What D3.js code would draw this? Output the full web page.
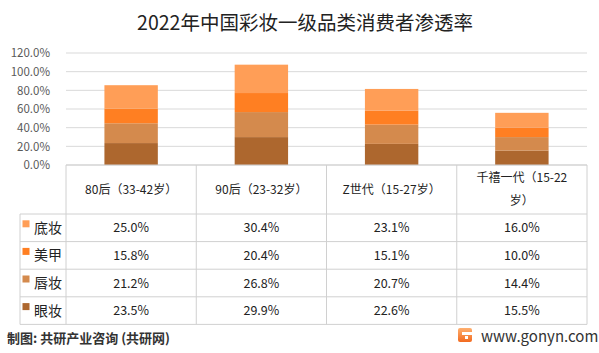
<!DOCTYPE html>
<html>
<head>
<meta charset="utf-8">
<script src="https://cdn.jsdelivr.net/npm/d3@7"></script>
<style>
  body { margin: 0; background: #fff; }
  text { font-family: "Noto Sans CJK SC", "Noto Sans", sans-serif; }
</style>
</head>
<body>
<div id="chart"></div>
<script>
// data
var categories = ['80后（33-42岁）', '90后（23-32岁）', 'Z世代（15-27岁）', '千禧一代（15-22岁）'];
var seriesNames = ['底妆', '美甲', '唇妆', '眼妆'];
var foundation = [25.0, 30.4, 23.1, 16.0];
var nails = [15.8, 20.4, 15.1, 10.0];
var lips = [21.2, 26.8, 20.7, 14.4];
var eyes = [23.5, 29.9, 22.6, 15.5];
var yTicks = [0, 20, 40, 60, 80, 100, 120];

var seriesValues = [foundation, nails, lips, eyes];
var colors = ['#FF9E57', '#FF7F22', '#D48A4D', '#AD672E'];

var W = 599, H = 353;
var plotLeft = 66, plotRight = 587, plotTop = 53, plotBase = 165;
var rowTop = 214, rowH = 27.6;

var svg = d3.select('#chart').append('svg')
  .attr('width', W)
  .attr('height', H);

svg.append('text')
  .attr('x', 305).attr('y', 30)
  .attr('text-anchor', 'middle')
  .attr('font-size', 19.5)
  .attr('fill', '#222')
  .text('2022年中国彩妆一级品类消费者渗透率');

var x = d3.scaleBand().domain(categories).range([plotLeft, plotRight]);
var y = d3.scaleLinear().domain([0, 120]).range([plotBase, plotTop]);

// gridlines
svg.append('g').selectAll('line')
  .data(yTicks)
  .enter().append('line')
  .attr('x1', plotLeft).attr('x2', plotRight)
  .attr('y1', function(d) { return y(d); })
  .attr('y2', function(d) { return y(d); })
  .attr('stroke', '#d9d9d9');

var yAxis = svg.append('g')
  .attr('transform', 'translate(' + (plotLeft - 13) + ',0)')
  .call(d3.axisLeft(y).tickValues(yTicks).tickSize(0).tickFormat(function(d) { return d.toFixed(1) + '%'; }));
yAxis.select('.domain').remove();
yAxis.selectAll('text').attr('font-size', 11.5).attr('fill', '#595959').attr('font-family', '"Noto Sans CJK SC", sans-serif');

// stacked bars, bottom-up: 眼妆, 唇妆, 美甲, 底妆
var rows = categories.map(function(c, i) {
  var r = { cat: c };
  seriesNames.forEach(function(s, j) { r[s] = seriesValues[j][i]; });
  return r;
});
var stack = d3.stack().keys(seriesNames.slice().reverse());
var layers = stack(rows);
var barW = x.bandwidth() * 0.41;

svg.append('g').selectAll('g')
  .data(layers)
  .enter().append('g')
  .attr('fill', function(d) { return colors[seriesNames.indexOf(d.key)]; })
  .selectAll('rect')
  .data(function(d) { return d; })
  .enter().append('rect')
  .attr('x', function(d) { return x(d.data.cat) + (x.bandwidth() - barW) / 2; })
  .attr('width', barW)
  .attr('y', function(d) { return y(d[1]); })
  .attr('height', function(d) { return y(d[0]) - y(d[1]); });

// data table
var tbl = svg.append('g');
var lineColor = '#d0d0d0';
var tableBottom = rowTop + rowH * seriesNames.length;

// vertical lines
var vx = [plotLeft].concat(categories.map(function(c) { return x(c) + x.bandwidth(); }));
tbl.selectAll('.v')
  .data(vx)
  .enter().append('line')
  .attr('x1', function(d) { return d; }).attr('x2', function(d) { return d; })
  .attr('y1', plotBase).attr('y2', tableBottom)
  .attr('stroke', lineColor);
tbl.append('line')
  .attr('x1', 20).attr('x2', 20).attr('y1', rowTop).attr('y2', tableBottom)
  .attr('stroke', lineColor);
// horizontal lines
tbl.append('line')
  .attr('x1', plotLeft).attr('x2', plotRight).attr('y1', plotBase).attr('y2', plotBase)
  .attr('stroke', lineColor);
tbl.selectAll('.h')
  .data(d3.range(seriesNames.length + 1))
  .enter().append('line')
  .attr('x1', 20).attr('x2', plotRight)
  .attr('y1', function(i) { return rowTop + i * rowH; })
  .attr('y2', function(i) { return rowTop + i * rowH; })
  .attr('stroke', lineColor);

// header labels, wrapped to fit cell
categories.forEach(function(c) {
  var t = tbl.append('text')
    .attr('text-anchor', 'middle')
    .attr('font-size', 12)
    .attr('fill', '#222');
  var probe = t.append('tspan').text(c);
  var lines = [c];
  if (probe.node().getComputedTextLength() > 110) {
    var chars = Array.from(c), cur = '';
    lines = [];
    chars.forEach(function(ch) {
      probe.text(cur + ch);
      if (probe.node().getComputedTextLength() > 100 && cur) { lines.push(cur); cur = ch; }
      else cur += ch;
    });
    lines.push(cur);
  }
  probe.remove();
  var cx = x(c) + x.bandwidth() / 2;
  var y0 = (plotBase + rowTop) / 2 + 4 - (lines.length - 1) * 11.5;
  lines.forEach(function(l, k) {
    t.append('tspan').attr('x', cx).attr('y', y0 + k * 23).text(l);
  });
});

// row labels with legend keys
seriesNames.forEach(function(s, j) {
  var cy = rowTop + j * rowH + rowH / 2;
  tbl.append('rect')
    .attr('x', 22.5).attr('y', cy - 7.5)
    .attr('width', 7).attr('height', 7)
    .attr('fill', colors[j]);
  tbl.append('text')
    .attr('x', 34).attr('y', cy + 5)
    .attr('font-size', 14)
    .attr('fill', '#222')
    .text(s);
  categories.forEach(function(c, i) {
    tbl.append('text')
      .attr('x', x(c) + x.bandwidth() / 2)
      .attr('y', cy + 4.5)
      .attr('text-anchor', 'middle')
      .attr('font-size', 12.5)
      .attr('fill', '#222')
      .text(seriesValues[j][i].toFixed(1) + '%');
  });
});

// footer
svg.append('text')
  .attr('x', 7).attr('y', 343)
  .attr('font-size', 13)
  .attr('font-weight', 'bold')
  .attr('fill', '#333')
  .text('制图: 共研产业咨询 (共研网)');

var grad = svg.append('defs').append('linearGradient')
  .attr('id', 'lg').attr('x1', 0).attr('y1', 0).attr('x2', 0).attr('y2', 1);
grad.append('stop').attr('offset', '0%').attr('stop-color', '#FFB070');
grad.append('stop').attr('offset', '100%').attr('stop-color', '#F26A1F');
svg.append('rect')
  .attr('x', 458).attr('y', 328).attr('width', 14).attr('height', 14).attr('rx', 2)
  .attr('fill', 'url(#lg)');
svg.append('rect')
  .attr('x', 462).attr('y', 332).attr('width', 10).attr('height', 3)
  .attr('fill', '#fff');
svg.append('rect')
  .attr('x', 465).attr('y', 336).attr('width', 3).attr('height', 3)
  .attr('fill', '#fff');
svg.append('text')
  .attr('x', 481).attr('y', 342)
  .attr('font-size', 15)
  .attr('font-family', 'Roboto, sans-serif')
  .attr('fill', '#333')
  .text('www.gonyn.com');
</script>
</body>
</html>
